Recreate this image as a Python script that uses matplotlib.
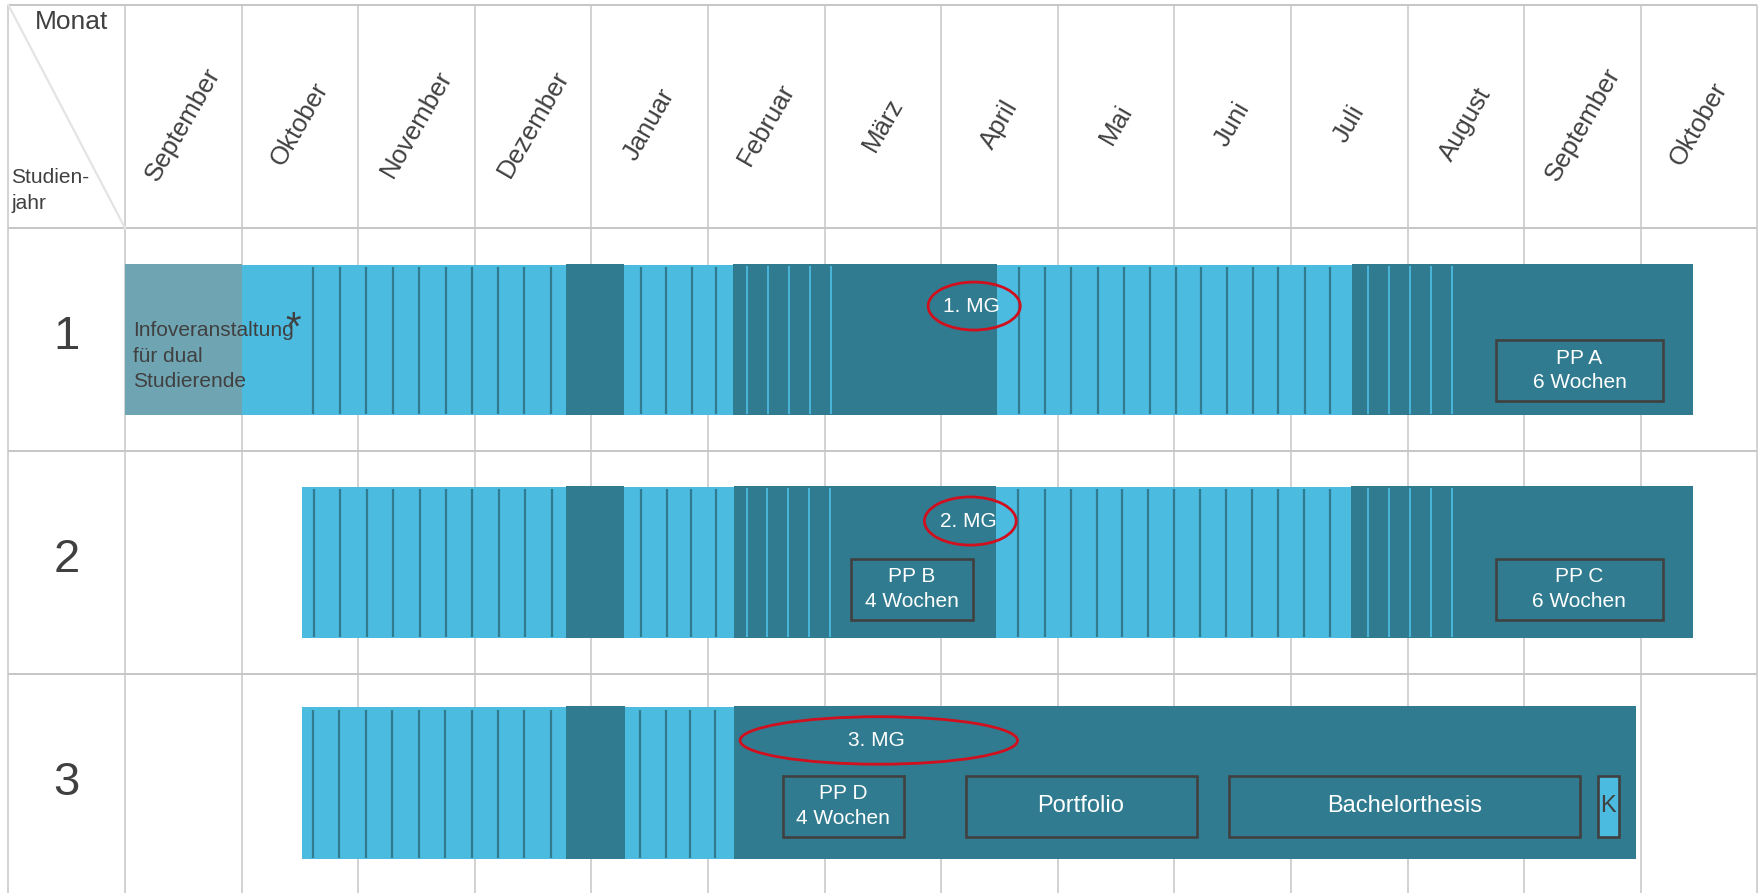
import matplotlib
matplotlib.use('Agg')
import matplotlib.pyplot as plt
from matplotlib.patches import Rectangle, Ellipse

plt.rcParams['font.family'] = ['Liberation Sans', 'DejaVu Sans']

# ---------------- data ----------------
months = ['September', 'Oktober', 'November', 'Dezember', 'Januar', 'Februar',
          'März', 'April', 'Mai', 'Juni', 'Juli', 'August', 'September', 'Oktober']
years = ['1', '2', '3']

# phases per study year: (start month, end month, kind)
phases_y1 = [(0.0, 1.0, 'info'), (1.0, 3.78, 'light'), (3.78, 4.28, 'dark'),
             (4.28, 5.215, 'light'), (5.215, 7.475, 'dark'),
             (7.475, 10.52, 'light'), (10.52, 13.448, 'dark')]
phases_y2 = [(1.52, 3.78, 'light'), (3.78, 4.282, 'dark'),
             (4.282, 5.222, 'light'), (5.222, 7.468, 'dark'),
             (7.468, 10.517, 'light'), (10.517, 13.449, 'dark')]
phases_y3 = [(1.522, 3.78, 'light'), (3.78, 4.285, 'dark'),
             (4.285, 5.222, 'light'), (5.222, 12.96, 'dark')]

# week separators (month positions)
weeks_on_light_y1 = [1.614, 1.842, 2.069, 2.296, 2.522, 2.749, 2.975, 3.202, 3.425, 3.655,
                     4.428, 4.641, 4.859, 5.072,
                     7.668, 7.891, 8.115, 8.342, 8.566, 8.79, 9.01, 9.23, 9.45, 9.673,
                     9.893, 10.117, 10.337]
weeks_on_dark_y1 = [5.336, 5.513, 5.694, 5.875, 6.053, 10.663, 10.843, 11.023, 11.2, 11.38]
weeks_on_light_y2 = [1.619, 1.846, 2.073, 2.3, 2.527, 2.754, 2.98, 3.204, 3.431, 3.658,
                     4.428, 4.647, 4.858, 5.069,
                     7.663, 7.888, 8.112, 8.333, 8.553, 8.778, 8.999, 9.22, 9.444, 9.664,
                     9.889, 10.113, 10.334]
weeks_on_dark_y2 = [5.332, 5.51, 5.689, 5.867, 6.045, 10.663, 10.842, 11.025, 11.203, 11.382]
weeks_on_light_y3 = [1.611, 1.838, 2.065, 2.292, 2.519, 2.746, 2.973, 3.2, 3.423, 3.65,
                     4.42, 4.639, 4.85, 5.06]
weeks_on_dark_y3 = []

# exam markers: (label, year index, x centre, width, y centre in row, height)
exams = [('1. MG', 0, 7.283, 0.79, 0.35, 0.215),
         ('2. MG', 1, 7.25, 0.787, 0.314, 0.216),
         ('3. MG', 2, 6.465, 2.38, 0.298, 0.213)]

# framed blocks: (label, year index, x0, x1, y0 in row, y1 in row, filled)
blocks = [('PP A\n6 Wochen', 0, 11.76, 13.19, 0.502, 0.776, False),
          ('PP B\n4 Wochen', 1, 6.228, 7.27, 0.483, 0.758, False),
          ('PP C\n6 Wochen', 1, 11.756, 13.19, 0.483, 0.758, False),
          ('PP D\n4 Wochen', 2, 5.64, 6.682, 0.457, 0.731, False),
          ('Portfolio', 2, 7.209, 9.19, 0.457, 0.731, False),
          ('Bachelorthesis', 2, 9.468, 12.476, 0.457, 0.731, False),
          ('K', 2, 12.63, 12.81, 0.457, 0.731, True)]

# ---------------- style ----------------
LIGHT = '#4BBBE0'
DARK = '#307B8F'
INFO = '#6FA5B3'
TXT = '#404040'
GRID = '#C6C6C6'
RED = '#D0101E'
bar_extent = [(0.166, 0.839), (0.161, 0.837), (0.150, 0.830)]

fig = plt.figure(figsize=(17.59, 8.93), dpi=100)
ax = fig.add_axes([0, 0, 1, 1])
ax.set_xlim(-1.072, 14.014)
ax.set_ylim(3.982, -0.0224)
ax.axis('off')

# grid
n = len(months)
ax.vlines([-1.0] + list(range(n + 1)), 0, 4, color=GRID, lw=1.1, zorder=1)
ax.hlines([0, 1, 2, 3, 4], -1.0, n, color=GRID, lw=1.4, zorder=1)
ax.plot([-1.0, 0], [0, 1], color='#E4E4E4', lw=1.6, zorder=1)

# header texts
ax.text(-0.14, 0.075, 'Monat', ha='right', va='center', fontsize=19, color=TXT)
ax.text(-0.975, 0.832, 'Studien-\njahr', ha='left', va='center', fontsize=15,
        color=TXT, linespacing=1.45)
for i, m in enumerate(months):
    ax.text(i + 0.5, 0.535, m, rotation=60, rotation_mode='anchor', ha='center',
            va='center', fontsize=18.5, color=TXT)

# rows
all_phases = [phases_y1, phases_y2, phases_y3]
all_wl = [weeks_on_light_y1, weeks_on_light_y2, weeks_on_light_y3]
all_wd = [weeks_on_dark_y1, weeks_on_dark_y2, weeks_on_dark_y3]
colors = {'light': LIGHT, 'dark': DARK, 'info': INFO}
for r, yr in enumerate(years):
    top = 1 + r + bar_extent[r][0]
    bot = 1 + r + bar_extent[r][1]
    ax.text(-0.5, 1.49 + r, yr, ha='center', va='center', fontsize=34, color=TXT)
    for (x0, x1, kind) in all_phases[r]:
        ext = 0.006 if kind in ('dark', 'info') else 0.0
        ax.add_patch(Rectangle((x0, top - ext), x1 - x0, bot - top + ext,
                               facecolor=colors[kind], edgecolor='none', zorder=2))
    ax.vlines(all_wl[r], top + 0.01, bot - 0.005, color=DARK, lw=1.6, zorder=3)
    ax.vlines(all_wd[r], top + 0.005, bot - 0.005, color=LIGHT, lw=1.3, zorder=3)

# info text (year 1)
ax.text(0.07, 1.575, 'Infoveranstaltung\nfür dual\nStudierende', ha='left', va='center',
        fontsize=15, color=TXT, linespacing=1.42, zorder=5)
ax.text(1.445, 1.5, '*', ha='center', va='baseline', fontsize=29, color=TXT, zorder=5)

for (lab, r, xc, w, yc, h) in exams:
    ax.add_patch(Ellipse((xc, 1 + r + yc), w, h, facecolor='none', edgecolor=RED,
                         lw=2.0, zorder=6))
    ax.text(xc - 0.02, 1 + r + yc, lab, ha='center', va='center', fontsize=15,
            color='white', zorder=7)

for (lab, r, x0, x1, y0, y1, filled) in blocks:
    ax.add_patch(Rectangle((x0, 1 + r + y0), x1 - x0, y1 - y0,
                           facecolor=LIGHT if filled else 'none', edgecolor=TXT,
                           lw=1.9, zorder=6))
    big = '\n' not in lab
    ax.text((x0 + x1) / 2, 1 + r + (y0 + y1) / 2, lab, ha='center', va='center',
            fontsize=17 if big else 15, color=TXT if filled else 'white',
            linespacing=1.4, zorder=7)

fig.savefig('out.png', dpi=100)
